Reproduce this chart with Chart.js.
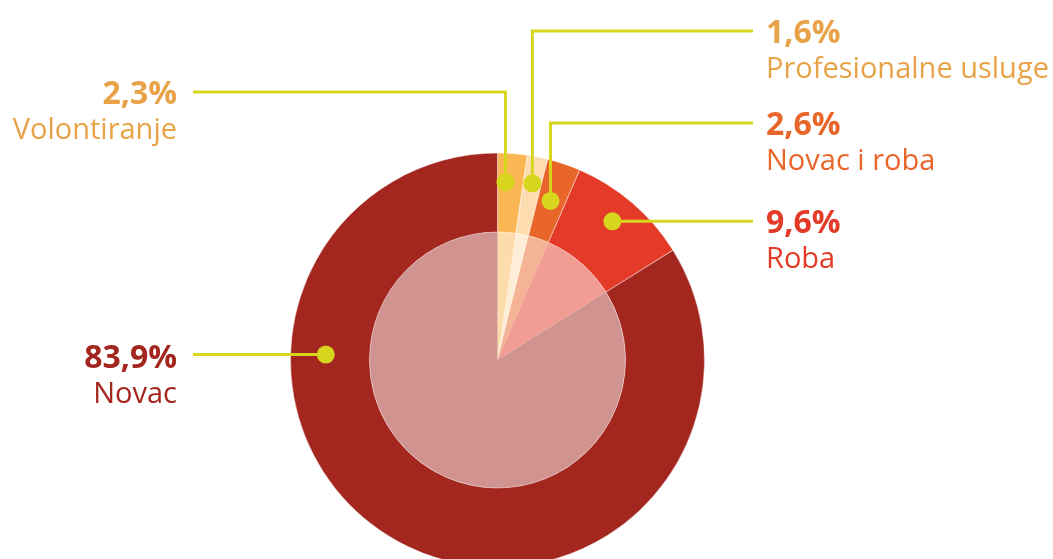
<!DOCTYPE html>
<html>
<head>
<meta charset="utf-8">
<script src="https://cdn.jsdelivr.net/npm/chart.js@4"></script>
<style>
  html, body { margin: 0; padding: 0; background: #fff; overflow: hidden; }
  #wrap { position: relative; width: 1053px; height: 600px; }
</style>
</head>
<body>
<div id="wrap"><canvas id="mycanvas"></canvas></div>
<script>
// data
var kategorije = ['Volontiranje', 'Profesionalne usluge', 'Novac i roba', 'Roba', 'Novac'];
var udjeli = [2.3, 1.6, 2.6, 9.6, 83.9];
var boje = ['#fbb654', '#fddcb0', '#e8662a', '#e33b27', '#a3261f'];
var bojeTeksta = ['#e8a348', '#e8a348', '#e8662a', '#e33b27', '#a3261f'];

// where each leader line goes (layout only)
var strana = ['left', 'right', 'right', 'right', 'left'];
var linijaY = [92, 31, 123, 221, 356];
var tockaKut = [0.31, 0.5, 0.47, 0.47, 0.708];  // fraction along the slice
var tockaR = [0.86, 0.87, 0.81, 0.87, 0.83];    // fraction of outer radius

function svijetlo(hex){
    var r = parseInt(hex.substr(1,2),16), g = parseInt(hex.substr(3,2),16), b = parseInt(hex.substr(5,2),16);
    r = Math.round((r+255)/2); g = Math.round((g+255)/2); b = Math.round((b+255)/2);
    return 'rgb(' + r + ',' + g + ',' + b + ')';
}

var oznake = {
    id: 'oznake',
    afterDraw: function(chart){
        var ctx = chart.ctx;
        var arcs = chart.getDatasetMeta(0).data;
        ctx.save();
        for (var i = 0; i < arcs.length; i++){
            var a = arcs[i];
            var kut = a.startAngle + tockaKut[i] * (a.endAngle - a.startAngle);
            var r = tockaR[i] * a.outerRadius;
            var px = a.x + Math.cos(kut) * r;
            var py = a.y + Math.sin(kut) * r;
            var ly = linijaY[i];
            var kraj = strana[i] == 'left' ? 193 : 753;

            ctx.strokeStyle = '#d7d61e';
            ctx.lineWidth = 3;
            ctx.beginPath();
            ctx.moveTo(px, py);
            if (Math.abs(py - ly) > 4) {
                ctx.lineTo(px, ly);
                ctx.lineTo(kraj, ly);
            } else {
                ctx.lineTo(kraj, py);
            }
            ctx.stroke();

            ctx.fillStyle = '#d7d61e';
            ctx.beginPath();
            ctx.arc(px, py, 9, 0, Math.PI * 2);
            ctx.fill();

            var tx = strana[i] == 'left' ? 177 : 766;
            ctx.textAlign = strana[i] == 'left' ? 'right' : 'left';
            ctx.textBaseline = 'alphabetic';
            ctx.fillStyle = bojeTeksta[i];
            ctx.font = 'bold 32px "Open Sans"';
            ctx.fillText(udjeli[i].toFixed(1).replace('.', ',') + '%', tx, ly + 12);
            ctx.font = '29px "Open Sans"';
            ctx.fillText(kategorije[i], tx, ly + 47);
        }
        ctx.restore();
    }
};

var chartdata = {
    labels: kategorije,
    datasets: [
        {
            data: udjeli,
            backgroundColor: boje,
            borderColor: 'rgba(255,255,255,0.45)',
            borderWidth: 1,
            weight: 79
        },
        {
            data: udjeli,
            backgroundColor: boje.map(svijetlo),
            borderWidth: 0,
            weight: 128
        }
    ]
};

var ctx = document.getElementById('mycanvas');
var pieGraph = new Chart(ctx, {
    type: 'pie',
    data: chartdata,
    options: {
        responsive: true,
        maintainAspectRatio: false,
        animation: false,
        hoverOffset: 0,
        layout: { padding: { left: 290, right: 348, top: 152, bottom: 32 } },
        plugins: {
            legend: { display: false },
            tooltip: { enabled: false }
        }
    },
    plugins: [oznake]
});
</script>
</body>
</html>
